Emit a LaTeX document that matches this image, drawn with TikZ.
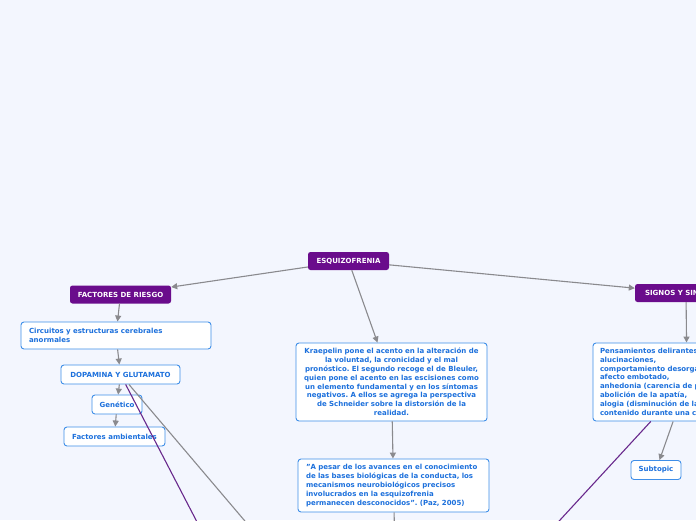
\documentclass[tikz,border=0pt]{standalone}
\usepackage{fontspec}
\setmainfont{DejaVu Sans}
\usetikzlibrary{arrows.meta}
\definecolor{bg}{RGB}{243,246,254}
\definecolor{mainpurple}{RGB}{106,12,140}
\definecolor{subblue}{RGB}{62,142,232}
\definecolor{subtext}{RGB}{28,112,220}
\definecolor{conngray}{RGB}{138,138,142}
\definecolor{relpurple}{RGB}{104,40,140}
\tikzset{
  mainbox/.style={fill=mainpurple, text=white, rounded corners=2.5pt, inner sep=0pt, minimum height=18pt, font=\bfseries\fontsize{7}{9}\selectfont},
  subbox/.style={draw=subblue, line width=0.9pt, fill=white, text=subtext, rounded corners=3pt, inner sep=0pt, minimum height=19pt, font=\bfseries\fontsize{7}{8.8}\selectfont},
  conn/.style={draw=conngray, line width=1.1pt, -{Triangle[length=6pt,width=6pt]}},
  rel/.style={draw=relpurple, line width=1.1pt},
}
\frenchspacing
\begin{document}
\begin{tikzpicture}[x=1pt,y=-1pt]
\useasboundingbox (0,0) rectangle (696,520);
\fill[bg] (0,0) rectangle (696,520);
\clip (0,0) rectangle (696,520);

\node[mainbox, minimum width=81pt] (esq) at (348.5,261) {ESQUIZOFRENIA};
\node[mainbox, minimum width=101pt] (fac) at (120.5,294.5) {FACTORES DE RIESGO};
\node[mainbox, minimum width=102pt] (sig) at (686,293) {SIGNOS Y SINTOMAS};

\node[subbox, minimum width=190pt, minimum height=27pt, text width=174pt, align=left] (cir) at (116,335.5) {Circuitos y estructuras cerebrales\\anormales};
\node[subbox, minimum width=119pt] (dop) at (120.5,374.5) {DOPAMINA Y GLUTAMATO};
\node[subbox, minimum width=50pt] (gen) at (117,404.5) {Genético};
\node[subbox, minimum width=101pt] (amb) at (114.5,436.5) {Factores ambientales};

\node[subbox, minimum width=191pt, minimum height=78pt, text width=182pt, align=center] (kra) at (391.5,382) {Kraepelin pone el acento en la alteración de\\la voluntad, la cronicidad y el mal\\pronóstico. El segundo recoge el de Bleuler,\\quien pone el acento en las escisiones como\\un elemento fundamental y en los síntomas\\negativos. A ellos se agrega la perspectiva\\de Schneider sobre la distorsión de la\\realidad.};
\node[subbox, minimum width=191pt, minimum height=53pt, text width=175pt, align=left] (paz) at (393.5,485.5) {"A pesar de los avances en el conocimiento\\de las bases biológicas de la conducta, los\\mecanismos neurobiológicos precisos\\involucrados en la esquizofrenia\\permanecen desconocidos". (Paz, 2005)};
\node[subbox, minimum width=188pt, minimum height=78pt, text width=174pt, align=left] (pen) at (687,382) {Pensamientos delirantes,\\alucinaciones,\\comportamiento desorganizado,\\afecto embotado,\\anhedonia (carencia de placer),\\abolición de la apatía,\\alogia (disminución de la fluidez,\\contenido durante una conversación)};
\node[subbox, minimum width=50pt] (subt) at (656,470) {Subtopic};

\coordinate (pazout) at (396,600);
\coordinate (dopout1) at (237.5,600);
\coordinate (dopout2) at (312,600);
\coordinate (penout) at (486.4,600);

\draw[conn] (esq) -- (fac);
\draw[conn] (esq) -- (sig);
\draw[conn] (esq) -- (kra);
\draw[conn] (fac) -- (cir);
\draw[conn] (cir) -- (dop);
\draw[conn] (dop) -- (gen);
\draw[conn] (gen) -- (amb);
\draw[conn] (kra) -- (paz);
\draw[conn] (paz) -- (pazout);
\draw[conn] (sig) -- (pen);
\draw[conn] (pen) -- (subt);
\draw[rel] (dop) -- (dopout1);
\draw[conn] (dop) -- (dopout2);
\draw[rel] (pen) -- (penout);
\end{tikzpicture}
\end{document}
